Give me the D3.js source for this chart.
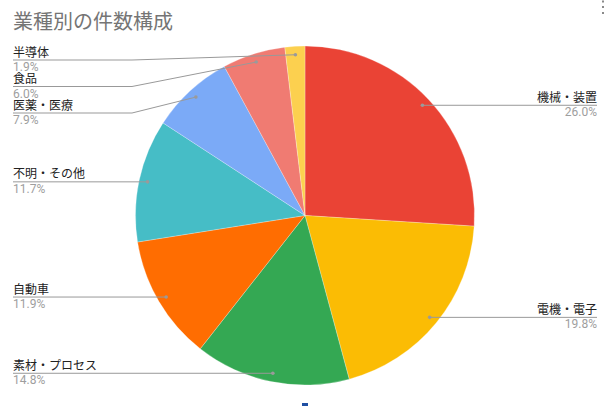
<!DOCTYPE html>
<html>
<head>
<meta charset="utf-8">
<script src="https://cdn.jsdelivr.net/npm/d3@7"></script>
<style>
    body { margin: 0; background: #fff; }
    text { font-family: Roboto, "Noto Sans CJK JP", sans-serif; }
</style>
</head>
<body>
<div id="chart-area"></div>
<script>
// data
var title = '業種別の件数構成'
var categories = ['機械・装置', '電機・電子', '素材・プロセス', '自動車', '不明・その他', '医薬・医療', '食品', '半導体']
var shares = [26.0, 19.8, 14.8, 11.9, 11.7, 7.9, 6.0, 1.9]
var sliceColors = ['#ea4335', '#fbbc04', '#34a853', '#ff6d01', '#46bdc6', '#7baaf7', '#f07b72', '#fcd04f']

var width = 605,
    height = 406,
    cx = 305,
    cy = 215.5,
    radius = 169.5

var svg = d3.select("#chart-area").append("svg")
    .attr("width", width)
    .attr("height", height)

svg.append("text")
    .attr("x", 13)
    .attr("y", 29)
    .attr("font-size", 20)
    .attr("fill", "#757575")
    .text(title)

// little menu dots top right and the blue mark under the chart
svg.append("g").selectAll("rect")
    .data([1.5, 7, 13])
    .enter().append("rect")
    .attr("x", 602)
    .attr("y", function(d) { return d - 1 })
    .attr("width", 2)
    .attr("height", 2)
    .attr("fill", "#8a8a8a")

svg.append("rect")
    .attr("x", 302)
    .attr("y", 403)
    .attr("width", 6)
    .attr("height", 3)
    .attr("fill", "#1f4fa3")

var color = d3.scaleOrdinal()
    .domain(categories)
    .range(sliceColors)

var pie = d3.pie()
    .sort(null)
    .value(function(d) { return d.value })

var slices = pie(categories.map(function(c, i) {
    return { name: c, value: shares[i] }
}))

var arc = d3.arc()
    .innerRadius(0)
    .outerRadius(radius)

// dots sit at 95% of the radius on the middle of the slice
var dotArc = d3.arc()
    .innerRadius(radius * 0.95)
    .outerRadius(radius * 0.95)

var g = svg.append("g")
    .attr("transform", "translate(" + cx + "," + cy + ")")

g.selectAll("path")
    .data(slices)
    .enter().append("path")
    .attr("d", arc)
    .attr("fill", function(d) { return color(d.data.name) })
    .attr("stroke", "#fff")
    .attr("stroke-opacity", 0.5)
    .attr("stroke-width", 0.5)

// work out label positions
var labels = slices.map(function(d) {
    var c = dotArc.centroid(d)
    var mid = (d.startAngle + d.endAngle) / 2
    return {
        name: d.data.name,
        value: d.data.value,
        dx: cx + c[0],
        dy: cy + c[1],
        left: mid > Math.PI,
        y: cy + c[1]
    }
})

// left side labels get pushed down so they don't overlap
var leftLabels = labels.filter(function(l) { return l.left })
    .sort(function(a, b) { return a.dy - b.dy })
var prev = -Infinity
leftLabels.forEach(function(l) {
    l.y = Math.max(l.dy, prev + 26.5, 60)
    prev = l.y
})

var leftX = 13,
    bendX = 132,
    rightX = 597

var lab = svg.append("g")

labels.forEach(function(l) {
    var pts
    if (l.left) {
        if (Math.abs(l.y - l.dy) < 1) {
            pts = [[leftX, l.y], [l.dx, l.dy]]
        } else {
            pts = [[leftX, l.y], [bendX, l.y], [l.dx, l.dy]]
        }
    } else {
        pts = [[l.dx, l.dy], [rightX, l.y]]
    }

    lab.append("path")
        .attr("d", d3.line()(pts))
        .attr("fill", "none")
        .attr("stroke", "#999")
        .attr("stroke-width", 1)

    lab.append("circle")
        .attr("cx", l.dx)
        .attr("cy", l.dy)
        .attr("r", 1.8)
        .attr("fill", "#9a9a9a")

    var tx = l.left ? leftX : rightX,
        anchor = l.left ? "start" : "end"

    lab.append("text")
        .attr("x", tx)
        .attr("y", l.y - 3.5)
        .attr("text-anchor", anchor)
        .attr("font-size", 12)
        .attr("fill", "#222")
        .text(l.name)

    lab.append("text")
        .attr("x", tx)
        .attr("y", l.y + 11)
        .attr("text-anchor", anchor)
        .attr("font-size", 12)
        .attr("fill", "#9e9e9e")
        .text(l.value.toFixed(1) + "%")
})
</script>
</body>
</html>
